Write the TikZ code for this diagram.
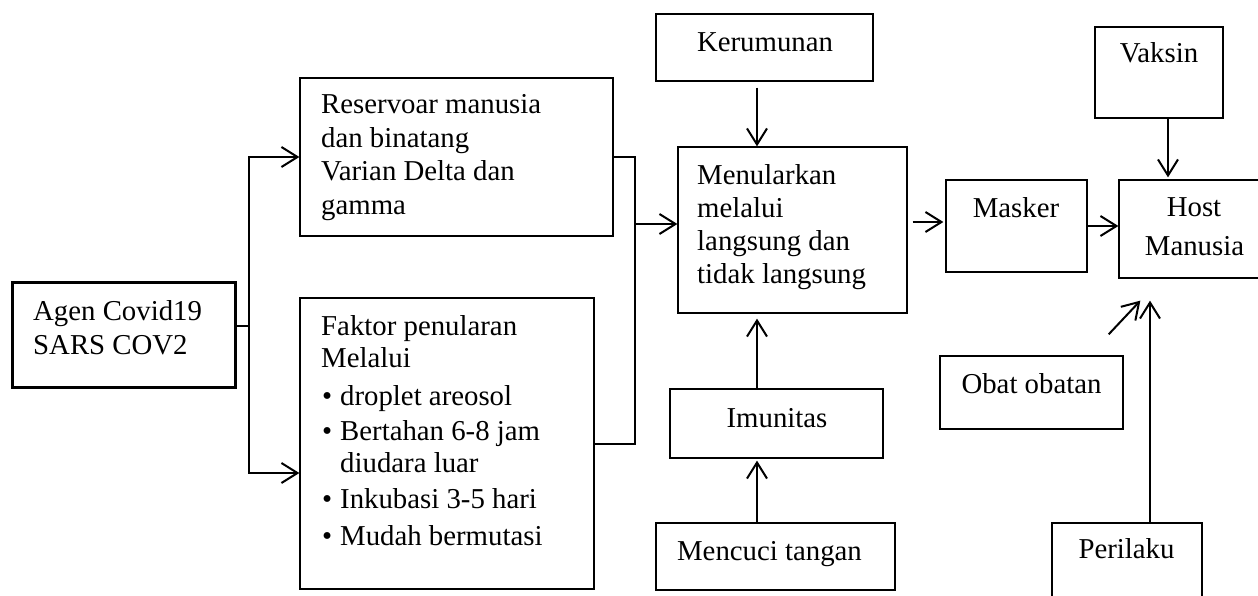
\documentclass[tikz,border=0pt]{standalone}
\usepackage{fontspec}
\setmainfont{Liberation Serif}
\usetikzlibrary{arrows.meta}
\begin{document}
\begin{tikzpicture}[x=1pt,y=-1pt,
  box/.style={draw, line width=1.3pt, inner sep=0pt},
  txt/.style={font=\fontsize{28.8}{34}\selectfont, inner sep=0pt, anchor=base west},
  ctxt/.style={font=\fontsize{28.8}{34}\selectfont, inner sep=0pt, anchor=base},
  conn/.style={line width=2pt},
  arr/.style={line width=2pt, -{Straight Barb[length=16pt,width=20pt]}}]
\useasboundingbox (0,0) rectangle (1258,596);
\clip (0,0) rectangle (1258,596);
% boxes
\node[box, line width=3pt, minimum width=223pt, minimum height=105pt] (agen) at (123.5,334.5) {};
\node[box, minimum width=313pt, minimum height=158pt] (res) at (456.5,157) {};
\node[box, minimum width=294pt, minimum height=291pt] (fak) at (447,443.5) {};
\node[box, minimum width=217pt, minimum height=67pt] (ker) at (764.5,47.5) {};
\node[box, minimum width=229pt, minimum height=166pt] (men) at (792.5,230) {};
\node[box, minimum width=213pt, minimum height=69pt] (imu) at (776.5,423.5) {};
\node[box, minimum width=239pt, minimum height=67pt] (mc) at (775.5,556.5) {};
\node[box, minimum width=141pt, minimum height=92pt] (mas) at (1016.5,226) {};
\node[box, minimum width=150pt, minimum height=98pt] (host) at (1194,229) {};
\node[box, minimum width=128pt, minimum height=91pt] (vak) at (1159,72.5) {};
\node[box, minimum width=183pt, minimum height=73pt] (obat) at (1031.5,392.5) {};
\node[box, minimum width=150pt, minimum height=117pt] (per) at (1127,581.5) {};
% texts
\node[txt] (tagen1) at (33,320) {Agen Covid19};
\node[txt] (tagen2) at (33,354) {SARS COV2};
\node[txt] (tres1) at (321,114) {Reservoar manusia};
\node[txt] (tres2) at (321,147.5) {dan binatang};
\node[txt] (tres3) at (321,181) {Varian Delta dan};
\node[txt] (tres4) at (321,214.5) {gamma};
\node[txt] (tfak1) at (321,335) {Faktor penularan};
\node[txt] (tfak2) at (321,367) {Melalui};
\node[txt] (tfak3) at (322,405) {\makebox[18pt][l]{•}droplet areosol};
\node[txt] (tfak4) at (322,440) {\makebox[18pt][l]{•}Bertahan 6-8 jam};
\node[txt] (tfak5) at (340,472) {diudara luar};
\node[txt] (tfak6) at (322,508) {\makebox[18pt][l]{•}Inkubasi 3-5 hari};
\node[txt] (tfak7) at (322,545) {\makebox[18pt][l]{•}Mudah bermutasi};
\node[ctxt] (tker) at (765,52) {Kerumunan};
\node[txt] (tmen1) at (697,185) {Menularkan};
\node[txt] (tmen2) at (697,217.7) {melalui};
\node[txt] (tmen3) at (697,250.3) {langsung dan};
\node[txt] (tmen4) at (697,283) {tidak langsung};
\node[ctxt] (timu) at (777,427) {Imunitas};
\node[ctxt] (tmc) at (769.5,560) {Mencuci tangan};
\node[ctxt] (tmas) at (1016,218) {Masker};
\node[ctxt] (thost1) at (1194,217) {Host};
\node[ctxt] (thost2) at (1194.5,255) {Manusia};
\node[ctxt] (tvak) at (1159,63) {Vaksin};
\node[ctxt] (tobat) at (1031.5,393) {Obat obatan};
\node[ctxt] (tper) at (1126.5,558) {Perilaku};
% connectors
\coordinate (split) at (249,326);
\coordinate (fakin) at (300,473);
\coordinate (merge) at (635,224);
\draw[conn] (agen.east |- split) -- (split);
\draw[arr] (split) |- (res.west);
\draw[arr] (split) |- (fak.west |- fakin);
\draw[conn] (res.east) -| (merge |- fak.east) -- (fak.east);
\draw[arr] (merge) -- (men.west |- merge);
\draw[arr] ([xshift=-7.5pt,yshift=-6pt]ker.south) -- ([xshift=-35.5pt]men.north);
\draw[arr] ([xshift=-19.5pt]imu.north) -- ([xshift=-35.5pt,yshift=-5pt]men.south);
\draw[arr] ([xshift=-18.5pt]mc.north) -- ([xshift=-19.5pt,yshift=-2pt]imu.south);
\draw[arr] ([xshift=5pt,yshift=8pt]men.east) -- ([xshift=-2pt,yshift=4pt]mas.west);
\draw[arr] (mas.east) -- (host.west |- mas.east);
\draw[arr] ([xshift=9pt]vak.south) -- ([xshift=-26pt,yshift=2pt]host.north);
\draw[arr] ([xshift=-15pt,yshift=21pt]obat.north east) -- ([xshift=22pt,yshift=-22pt]host.south west);
\draw[arr] ([xshift=23pt]per.north) -- ([xshift=-44pt,yshift=-22pt]host.south);
\end{tikzpicture}
\end{document}
